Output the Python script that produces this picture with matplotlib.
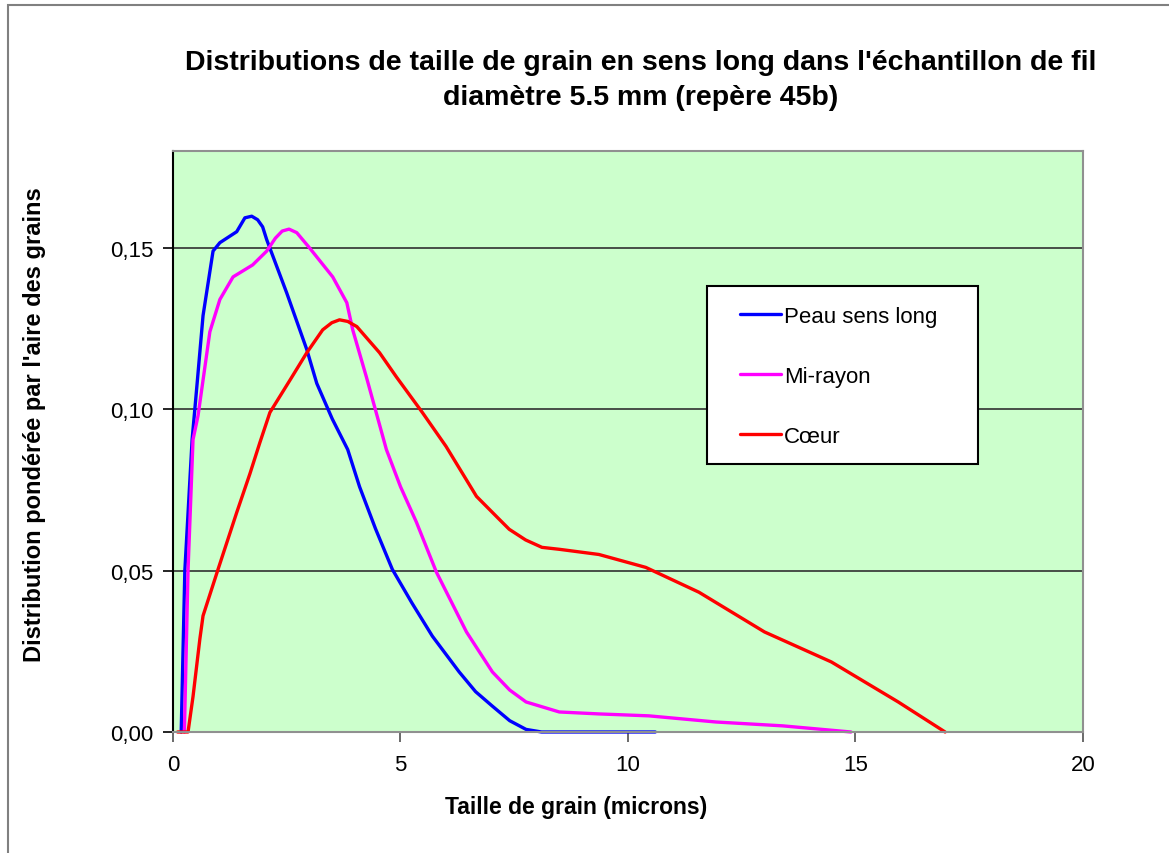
import matplotlib.pyplot as plt
from matplotlib.patches import Rectangle

# Grain size (microns) and area-weighted distribution for each zone
peau_x = [0.18, 0.26, 0.42, 0.53, 0.66, 0.77, 0.88, 1.03, 1.40, 1.58, 1.73, 1.86,
          1.97, 2.06, 2.50, 2.94, 3.16, 3.50, 3.84, 4.10, 4.45, 4.82, 5.25, 5.70,
          6.29, 6.65, 7.02, 7.40, 7.76, 8.1, 10.6]
peau_y = [0.0, 0.050, 0.0906, 0.108, 0.129, 0.139, 0.149, 0.1516, 0.155, 0.1593,
          0.1598, 0.1587, 0.1565, 0.1525, 0.136, 0.1185, 0.108, 0.097, 0.0875,
          0.076, 0.063, 0.0504, 0.040, 0.0297, 0.0186, 0.0125, 0.008, 0.0035,
          0.0008, 0.0, 0.0]

mi_x = [0.25, 0.33, 0.44, 0.55, 0.81, 1.03, 1.32, 1.75, 2.06, 2.25, 2.40, 2.55,
        2.72, 3.0, 3.51, 3.82, 3.95, 4.25, 4.69, 5.0, 5.35, 5.79, 6.45, 7.02,
        7.40, 7.76, 8.49, 9.36, 10.46, 11.93, 13.4, 14.9]
mi_y = [0.0, 0.050, 0.0906, 0.098, 0.124, 0.134, 0.141, 0.1447, 0.149, 0.153,
        0.1552, 0.1558, 0.1547, 0.150, 0.141, 0.133, 0.1246, 0.110, 0.0875, 0.076,
        0.065, 0.0495, 0.031, 0.0186, 0.0130, 0.0093, 0.0062, 0.0056, 0.005,
        0.0031, 0.0019, 0.0]

coeur_x = [0.1, 0.33, 0.44, 0.59, 0.66, 0.99, 1.40, 1.69, 1.91, 2.13, 2.57, 2.94,
           3.29, 3.49, 3.66, 3.84, 4.04, 4.54, 4.91, 5.48, 6.0, 6.67, 7.17, 7.39,
           7.75, 8.11, 8.49, 9.36, 10.39, 11.56, 13.0, 14.47, 15.94, 16.97]
coeur_y = [0.0, 0.0, 0.011, 0.0288, 0.036, 0.0504, 0.068, 0.080, 0.0897, 0.099,
           0.109, 0.1175, 0.1246, 0.1268, 0.1277, 0.1272, 0.1256, 0.1175, 0.110,
           0.099, 0.0885, 0.073, 0.0659, 0.0628, 0.0595, 0.0572, 0.0566, 0.055,
           0.051, 0.0433, 0.031, 0.0217, 0.0093, 0.0]

series_labels = ['Peau sens long', 'Mi-rayon', 'C\u0153ur']
series_colors = ['#0000ff', '#ff00ff', '#ff0000']

x_ticks = [0, 5, 10, 15, 20]
y_ticks = [0.0, 0.05, 0.10, 0.15]
y_tick_labels = ['0,00', '0,05', '0,10', '0,15']

plt.rcParams['font.family'] = ['Liberation Sans', 'DejaVu Sans']

fig = plt.figure(figsize=(11.69, 8.54), dpi=100)
ax = fig.add_axes([0.148, 0.1417, 0.7784, 0.6803])

# outer chart frame (runs off the right and bottom edges)
fig.patches.append(Rectangle((8 / 1169, -0.05), 1.2, 1 - 6 / 854 + 0.05,
                             transform=fig.transFigure, fill=False,
                             edgecolor='#808080', linewidth=1.5))

ax.set_facecolor('#ccffcc')
for s in ['top', 'right', 'bottom']:
    ax.spines[s].set_color('#909090')
    ax.spines[s].set_linewidth(1.5)
ax.spines['left'].set_color('black')
ax.spines['left'].set_linewidth(1.5)

ax.set_xlim(0, 20)
ax.set_ylim(0, 0.18)
ax.set_xticks(x_ticks)
ax.set_yticks(y_ticks)
ax.set_yticklabels(y_tick_labels)
ax.tick_params(axis='both', direction='out', length=7, width=1.2,
               labelsize=16, pad=7, colors='black')
ax.tick_params(axis='x', color='#505050', pad=9)
ax.yaxis.grid(True, color='#303030', linewidth=1.2)
ax.set_axisbelow(True)

for xs, ys, lab, col in zip([peau_x, mi_x, coeur_x], [peau_y, mi_y, coeur_y],
                            series_labels, series_colors):
    ax.plot(xs, ys, color=col, linewidth=2.4, label=lab, clip_on=False,
            solid_joinstyle='round', solid_capstyle='round')

# legend box drawn separately so the padding can be uneven
ax.add_patch(Rectangle((0.5868, 0.4613), 0.2978, 0.3063, transform=ax.transAxes,
                       facecolor='white', edgecolor='black', linewidth=1.5,
                       zorder=4))
leg = ax.legend(loc='upper left', bbox_to_anchor=(0.623, 0.733), fontsize=16,
                frameon=False, handlelength=1.85, handletextpad=0.15,
                labelspacing=1.75, borderpad=0, borderaxespad=0)
leg.set_zorder(5)

fig.text(641 / 1169, 1 - 63 / 854,
         "Distributions de taille de grain en sens long dans l'\u00e9chantillon de fil",
         ha='center', va='center', fontsize=20.5, fontweight='bold')
fig.text(641 / 1169, 1 - 98 / 854, "diam\u00e8tre 5.5 mm (rep\u00e8re 45b)",
         ha='center', va='center', fontsize=20.5, fontweight='bold')
fig.text(576 / 1169, 1 - 808 / 854, 'Taille de grain (microns)', ha='center',
         va='center', fontsize=16.5, fontweight='bold')
fig.text(35 / 1169, 1 - 425 / 854, "Distribution pond\u00e9r\u00e9e par l'aire des grains",
         ha='center', va='center', rotation=90, fontsize=17, fontweight='bold')

fig.savefig('out.png', dpi=100)
